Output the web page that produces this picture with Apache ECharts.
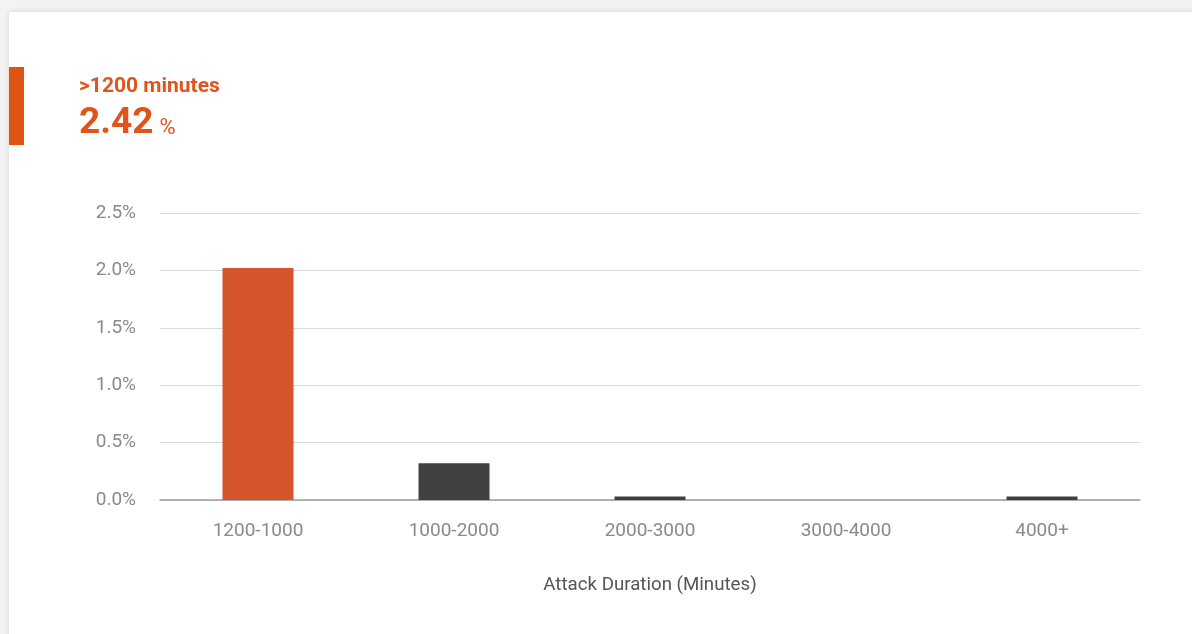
<!DOCTYPE html>
<html>
<head>
<meta charset="utf-8">
<script src="https://cdn.jsdelivr.net/npm/echarts@6/dist/echarts.min.js"></script>
<style>
  html, body { margin: 0; padding: 0; width: 1192px; height: 634px; overflow: hidden; background: #f3f3f3; font-family: Roboto, sans-serif; }
  #card { position: absolute; left: 9px; top: 12px; width: 1300px; height: 700px; background: #fff; box-shadow: 0 0 6px rgba(0,0,0,0.12); }
  #chart { position: absolute; left: 0; top: 0; width: 1192px; height: 634px; }
</style>
</head>
<body>
<div id="card"></div>
<div id="chart"></div>
<script>
  // 공격 지속 시간 구간
  const categories = ["1200-1000", "1000-2000", "2000-3000", "3000-4000", "4000+"];
  // 비율 (%)
  const shareValues = [2.02, 0.32, 0.03, 0, 0.03];
  const barColors = ["#d6562b", "#404040", "#404040", "#404040", "#404040"];
  const headline = ">1200 minutes";
  const headlineValue = "2.42";

  const chart = echarts.init(document.getElementById("chart"));

  const option = {
    animation: false,
    textStyle: { fontFamily: "Roboto" },
    title: {
      left: 74,
      top: 71,
      text: headline,
      textStyle: { color: "#e0531b", fontSize: 21, fontWeight: "bold", fontFamily: "Roboto" },
      subtext: "{v|" + headlineValue + "} {u|%}",
      itemGap: 8,
      subtextStyle: {
        rich: {
          v: { color: "#e0531b", fontSize: 37, fontWeight: "bold", fontFamily: "Roboto" },
          u: { color: "#e0531b", fontSize: 22, fontFamily: "Roboto", padding: [9, 0, 0, 3] },
        },
      },
    },
    graphic: [
      {
        type: "rect",
        left: 9,
        top: 67,
        shape: { width: 15, height: 78 },
        style: { fill: "#e05412" },
      },
    ],
    grid: {
      left: 160,
      right: 52,
      top: 213,
      bottom: 134,
    },
    xAxis: {
      type: "category",
      data: categories,
      name: "Attack Duration (Minutes)",
      nameLocation: "middle",
      nameGap: 76,
      nameTextStyle: { color: "#555", fontSize: 18.7 },
      axisTick: { show: false },
      axisLine: { lineStyle: { color: "#9e9e9e", width: 1.5 } },
      axisLabel: { color: "#8a8a8a", fontSize: 19, margin: 22 },
    },
    yAxis: {
      type: "value",
      min: 0,
      max: 2.5,
      interval: 0.5,
      axisLine: { show: false },
      axisTick: { show: false },
      axisLabel: {
        color: "#8a8a8a",
        fontSize: 19,
        margin: 24,
        padding: [3, 0, 0, 0],
        formatter: (v) => v.toFixed(1) + "%",
      },
      splitLine: { lineStyle: { color: "#d9d9d9" } },
    },
    series: [
      {
        type: "bar",
        barWidth: 71,
        data: shareValues.map((v, i) => ({ value: v, itemStyle: { color: barColors[i] } })),
      },
    ],
  };

  chart.setOption(option);
</script>
</body>
</html>
